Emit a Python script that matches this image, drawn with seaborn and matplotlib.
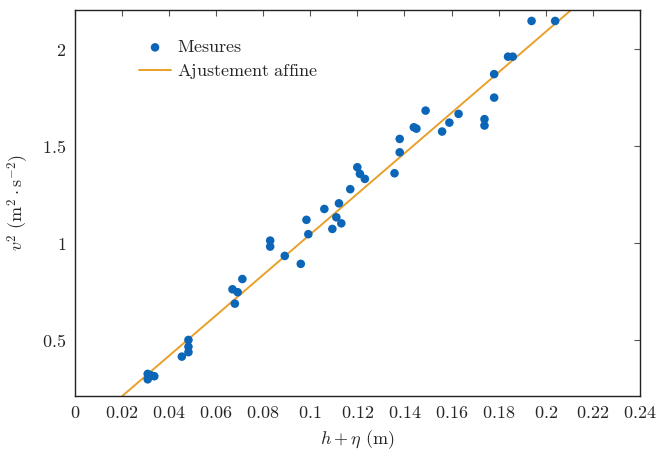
import numpy as np
import pandas as pd
import matplotlib
matplotlib.use("Agg")
import matplotlib.pyplot as plt
import seaborn as sns

# Measured data (h + eta in m, v^2 in m^2/s^2)
h_eta = [0.0310, 0.0310, 0.0323, 0.0338, 0.0455, 0.0483, 0.0483, 0.0483,
         0.0670, 0.0692, 0.0680, 0.0712, 0.0830, 0.0830, 0.0892, 0.0960,
         0.0984, 0.0992, 0.1060, 0.1094, 0.1111, 0.1132, 0.1122, 0.1170,
         0.1200, 0.1211, 0.1232, 0.1358, 0.1380, 0.1380, 0.1440, 0.1451,
         0.1490, 0.1560, 0.1591, 0.1630, 0.1740, 0.1740, 0.1781, 0.1781,
         0.1840, 0.1860, 0.1940, 0.2040]
v2 = [0.325, 0.297, 0.318, 0.313, 0.414, 0.500, 0.465, 0.437,
      0.761, 0.746, 0.687, 0.814, 1.012, 0.981, 0.933, 0.892,
      1.119, 1.045, 1.175, 1.072, 1.132, 1.101, 1.204, 1.277,
      1.390, 1.356, 1.330, 1.359, 1.536, 1.467, 1.596, 1.589,
      1.682, 1.574, 1.620, 1.665, 1.638, 1.605, 1.749, 1.870,
      1.960, 1.960, 2.144, 2.144]

# Affine fit parameters
slope = 10.44
intercept = 0.0
fit_x = [0.02, 0.2108]

x_ticks = [0, 0.02, 0.04, 0.06, 0.08, 0.1, 0.12, 0.14, 0.16, 0.18, 0.2, 0.22, 0.24]
y_ticks = [0.5, 1, 1.5, 2]

df = pd.DataFrame({"x": h_eta, "y": v2})
fit_df = pd.DataFrame({"x": fit_x, "y": [slope * v + intercept for v in fit_x]})

sns.set_style("white")
plt.rcParams["mathtext.fontset"] = "cm"
plt.rcParams["font.family"] = ["DejaVu Serif"]

fig = plt.figure(figsize=(6.57, 4.5), dpi=100)
ax = fig.add_axes([0.1137, 0.12, 0.974 - 0.1137, 0.978 - 0.12])

blue = "#0b66b8"
orange = "#e9a02a"

sns.scatterplot(data=df, x="x", y="y", ax=ax, color=blue, s=38,
                edgecolor="none", label=r"$\mathrm{Mesures}$", zorder=3)
sns.lineplot(data=fit_df, x="x", y="y", ax=ax, color=orange, linewidth=1.4,
             label=r"$\mathrm{Ajustement\ affine}$", zorder=2)

ax.set_xlim(0, 0.24)
ax.set_ylim(0.211, 2.201)
ax.set_xticks(x_ticks)
ax.set_xticklabels([f"${t:g}$" for t in x_ticks])
ax.set_yticks(y_ticks)
ax.set_yticklabels([f"${t:g}$" for t in y_ticks])

ax.tick_params(direction="in", length=4, width=0.8, color="#555555",
               top=True, right=True, labelsize=13, pad=6)
for sp in ax.spines.values():
    sp.set_visible(True)
    sp.set_color("#222222")
    sp.set_linewidth(1.0)

ax.set_xlabel(r"$h+\eta\ (\mathrm{m})$", fontsize=13, labelpad=4)
ax.set_ylabel(r"$v^2\ (\mathrm{m}^2\cdot\mathrm{s}^{-2})$", fontsize=13, labelpad=8)

leg = ax.legend(loc="upper left", bbox_to_anchor=(0.095, 0.955), frameon=False,
                fontsize=13, handlelength=1.75, handletextpad=0.35,
                labelspacing=0.35, borderaxespad=0.2)

fig.savefig("out.png", dpi=100)
